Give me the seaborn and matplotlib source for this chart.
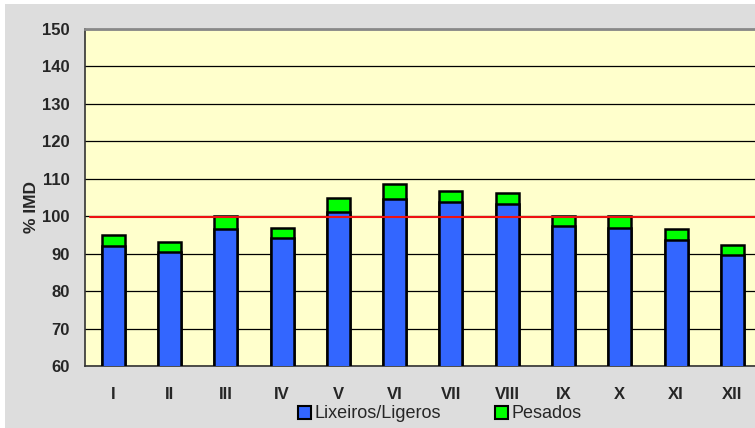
import matplotlib
matplotlib.use("Agg")
import matplotlib.pyplot as plt
import seaborn as sns
import pandas as pd
from matplotlib.patches import Patch, Rectangle
from matplotlib.ticker import MultipleLocator, FixedLocator

# data
months = ["I", "II", "III", "IV", "V", "VI", "VII", "VIII", "IX", "X", "XI", "XII"]
ligeros = [92.1, 90.4, 96.6, 94.1, 101.1, 104.7, 103.9, 103.3, 97.4, 96.8, 93.7, 89.6]
pesados = [2.8, 2.8, 3.4, 2.7, 3.8, 3.8, 2.8, 2.8, 2.7, 3.2, 3.0, 2.7]
ref_level = 99.7

df = pd.DataFrame({"mes": months, "ligeros": ligeros, "pesados": pesados})
df["total"] = df["ligeros"] + df["pesados"]

blue = "#3366FF"
green = "#00FF00"

sns.set_style("white")
plt.rcParams["font.family"] = ["Liberation Sans", "DejaVu Sans"]

fig = plt.figure(figsize=(7.55, 4.28), dpi=100)
fig.patch.set_facecolor("white")
fig.patches.append(Rectangle((5 / 755, 0), 1, 1 - 4 / 428, transform=fig.transFigure,
                             facecolor="#DDDDDD", edgecolor="none", zorder=-10))
ax = fig.add_axes([85 / 755, 1 - 366 / 428, (755 - 85) / 755, (366 - 29) / 428])
ax.set_facecolor("#FFFFCC")

sns.barplot(data=df, x="mes", y="total", order=months, color=green, width=0.41,
            edgecolor="black", linewidth=1.8, saturation=1, ax=ax, zorder=3)
sns.barplot(data=df, x="mes", y="ligeros", order=months, color=blue, width=0.41,
            edgecolor="black", linewidth=1.8, saturation=1, ax=ax, zorder=4)

ax.axhline(ref_level, xmin=5 / 670, color="#EE1111", lw=1.5, zorder=5)

ax.set_ylim(60, 150)
ax.set_xlim(-0.5, -0.5 + 670 / 56.3)
ax.yaxis.set_major_locator(MultipleLocator(10))
ax.grid(axis="y", color="black", lw=0.9, zorder=0)
ax.set_axisbelow(True)

ax.xaxis.set_minor_locator(FixedLocator([i - 0.5 for i in range(13)]))
ax.tick_params(axis="x", which="major", length=0, pad=15)
ax.tick_params(axis="x", which="minor", length=5, width=1, color="#333333", direction="out")
ax.tick_params(axis="y", length=5, width=1, color="#333333", direction="out", pad=6)
for lbl in ax.get_xticklabels() + ax.get_yticklabels():
    lbl.set_fontweight("bold")
    lbl.set_fontsize(12)

ax.set_xlabel("")
ax.set_ylabel("% IMD", fontsize=12.5, fontweight="bold")
ax.yaxis.set_label_coords(-46 / 670, 0.472)

for side in ["left", "bottom"]:
    ax.spines[side].set_color("#333333")
    ax.spines[side].set_linewidth(1.2)
ax.spines["top"].set_color("#888888")
ax.spines["top"].set_linewidth(2)
ax.spines["right"].set_visible(False)

handles = [Patch(facecolor=blue, edgecolor="black", lw=1.5, label="Lixeiros/Ligeros"),
           Patch(facecolor=green, edgecolor="black", lw=1.5, label="Pesados")]
fig.legend(handles=handles, loc="center", bbox_to_anchor=(440 / 755, 1 - 414 / 428),
           ncol=2, frameon=False, fontsize=13, handlelength=0.7, handleheight=0.7,
           handletextpad=0.2, columnspacing=3.0, borderpad=0)

fig.savefig("out.png", dpi=100, facecolor=fig.get_facecolor())
